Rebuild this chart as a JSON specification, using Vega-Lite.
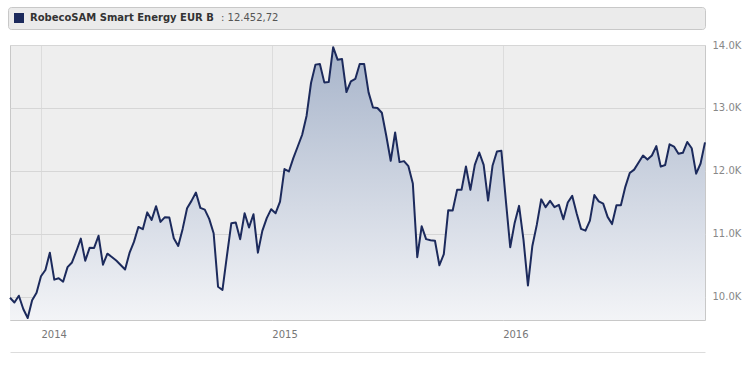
{
  "$schema": "https://vega.github.io/schema/vega-lite/v6.json",
  "width": 695,
  "height": 275,
  "autosize": {"type": "none"},
  "padding": {"left": 10, "top": 45, "right": 47, "bottom": 47},
  "background": "#ffffff",
  "config": {
    "view": {"fill": "#eeeeee", "stroke": "#c8c8c8", "strokeWidth": 1},
    "font": "DejaVu Sans"
  },
  "data": {"values": [
    {"date":"2013-11-13","value":9984},{"date":"2013-11-20","value":9908},{"date":"2013-11-27","value":10016},{"date":"2013-12-04","value":9804},{"date":"2013-12-11","value":9661},{"date":"2013-12-18","value":9943},{"date":"2013-12-25","value":10064},
    {"date":"2014-01-01","value":10325},{"date":"2014-01-08","value":10425},{"date":"2014-01-15","value":10700},{"date":"2014-01-22","value":10271},{"date":"2014-01-29","value":10293},
    {"date":"2014-02-05","value":10239},{"date":"2014-02-12","value":10470},{"date":"2014-02-19","value":10544},{"date":"2014-02-26","value":10727},
    {"date":"2014-03-05","value":10923},{"date":"2014-03-12","value":10571},{"date":"2014-03-19","value":10780},{"date":"2014-03-26","value":10775},
    {"date":"2014-04-02","value":10969},{"date":"2014-04-09","value":10509},{"date":"2014-04-16","value":10684},{"date":"2014-04-23","value":10632},{"date":"2014-04-30","value":10576},
    {"date":"2014-05-07","value":10505},{"date":"2014-05-14","value":10433},{"date":"2014-05-21","value":10696},{"date":"2014-05-28","value":10871},
    {"date":"2014-06-04","value":11109},{"date":"2014-06-11","value":11073},{"date":"2014-06-18","value":11340},{"date":"2014-06-25","value":11221},
    {"date":"2014-07-02","value":11439},{"date":"2014-07-09","value":11189},{"date":"2014-07-16","value":11264},{"date":"2014-07-23","value":11257},{"date":"2014-07-30","value":10929},
    {"date":"2014-08-06","value":10807},{"date":"2014-08-13","value":11078},{"date":"2014-08-20","value":11407},{"date":"2014-08-27","value":11523},
    {"date":"2014-09-03","value":11655},{"date":"2014-09-10","value":11412},{"date":"2014-09-17","value":11385},{"date":"2014-09-24","value":11237},
    {"date":"2014-10-01","value":11009},{"date":"2014-10-08","value":10159},{"date":"2014-10-15","value":10107},{"date":"2014-10-22","value":10648},{"date":"2014-10-29","value":11168},
    {"date":"2014-11-05","value":11178},{"date":"2014-11-12","value":10914},{"date":"2014-11-19","value":11327},{"date":"2014-11-26","value":11101},
    {"date":"2014-12-03","value":11311},{"date":"2014-12-10","value":10700},{"date":"2014-12-17","value":11046},{"date":"2014-12-24","value":11248},{"date":"2014-12-31","value":11391},
    {"date":"2015-01-07","value":11327},{"date":"2015-01-14","value":11512},{"date":"2015-01-21","value":12028},{"date":"2015-01-28","value":11990},
    {"date":"2015-02-04","value":12203},{"date":"2015-02-11","value":12387},{"date":"2015-02-18","value":12574},{"date":"2015-02-25","value":12876},
    {"date":"2015-03-04","value":13396},{"date":"2015-03-11","value":13688},{"date":"2015-03-18","value":13699},{"date":"2015-03-25","value":13406},
    {"date":"2015-04-01","value":13412},{"date":"2015-04-08","value":13966},{"date":"2015-04-15","value":13767},{"date":"2015-04-22","value":13778},{"date":"2015-04-29","value":13253},
    {"date":"2015-05-06","value":13422},{"date":"2015-05-13","value":13460},{"date":"2015-05-20","value":13699},{"date":"2015-05-27","value":13699},
    {"date":"2015-06-03","value":13247},{"date":"2015-06-10","value":13008},{"date":"2015-06-17","value":12999},{"date":"2015-06-24","value":12924},
    {"date":"2015-07-01","value":12558},{"date":"2015-07-08","value":12160},{"date":"2015-07-15","value":12610},{"date":"2015-07-22","value":12139},{"date":"2015-07-29","value":12155},
    {"date":"2015-08-05","value":12075},{"date":"2015-08-12","value":11799},{"date":"2015-08-19","value":10629},{"date":"2015-08-26","value":11120},
    {"date":"2015-09-02","value":10915},{"date":"2015-09-09","value":10898},{"date":"2015-09-16","value":10890},{"date":"2015-09-23","value":10500},{"date":"2015-09-30","value":10676},
    {"date":"2015-10-07","value":11375},{"date":"2015-10-14","value":11369},{"date":"2015-10-21","value":11698},{"date":"2015-10-28","value":11698},
    {"date":"2015-11-04","value":12069},{"date":"2015-11-11","value":11698},{"date":"2015-11-18","value":12096},{"date":"2015-11-25","value":12292},
    {"date":"2015-12-02","value":12096},{"date":"2015-12-09","value":11528},{"date":"2015-12-16","value":12080},{"date":"2015-12-23","value":12308},{"date":"2015-12-30","value":12319},
    {"date":"2016-01-06","value":11539},{"date":"2016-01-13","value":10786},{"date":"2016-01-20","value":11173},{"date":"2016-01-27","value":11444},
    {"date":"2016-02-03","value":10902},{"date":"2016-02-10","value":10178},{"date":"2016-02-17","value":10807},{"date":"2016-02-24","value":11141},
    {"date":"2016-03-02","value":11547},{"date":"2016-03-09","value":11423},{"date":"2016-03-16","value":11523},{"date":"2016-03-23","value":11423},{"date":"2016-03-30","value":11459},
    {"date":"2016-04-06","value":11232},{"date":"2016-04-13","value":11496},{"date":"2016-04-20","value":11603},{"date":"2016-04-27","value":11327},
    {"date":"2016-05-04","value":11078},{"date":"2016-05-11","value":11050},{"date":"2016-05-18","value":11210},{"date":"2016-05-25","value":11615},
    {"date":"2016-06-01","value":11515},{"date":"2016-06-08","value":11480},{"date":"2016-06-15","value":11269},{"date":"2016-06-22","value":11154},{"date":"2016-06-29","value":11455},
    {"date":"2016-07-06","value":11455},{"date":"2016-07-13","value":11746},{"date":"2016-07-20","value":11966},{"date":"2016-07-27","value":12020},
    {"date":"2016-08-03","value":12133},{"date":"2016-08-10","value":12244},{"date":"2016-08-17","value":12179},{"date":"2016-08-24","value":12244},{"date":"2016-08-31","value":12394},
    {"date":"2016-09-07","value":12067},{"date":"2016-09-14","value":12093},{"date":"2016-09-21","value":12422},{"date":"2016-09-28","value":12386},
    {"date":"2016-10-05","value":12271},{"date":"2016-10-12","value":12287},{"date":"2016-10-19","value":12459},{"date":"2016-10-26","value":12359},
    {"date":"2016-11-02","value":11956},{"date":"2016-11-09","value":12117},{"date":"2016-11-16","value":12452.72}
  ]},
  "encoding": {
    "x": {
      "field": "date", "type": "temporal",
      "scale": {"type": "utc", "domain": [{"year": 2013, "month": 11, "date": 13, "utc": true}, {"year": 2016, "month": 11, "date": 16, "utc": true}]},
      "axis": {
        "title": null, "format": "%Y",
        "values": [{"year": 2014, "utc": true}, {"year": 2015, "utc": true}, {"year": 2016, "utc": true}],
        "grid": true, "gridColor": "#dcdcdc", "gridWidth": 1,
        "domain": false, "ticks": false,
        "labelAlign": "left", "labelBaseline": "top", "labelPadding": 9, "labelDx": 1,
        "labelFont": "DejaVu Sans", "labelFontSize": 10, "labelColor": "#777777"
      }
    },
    "y": {
      "field": "value", "type": "quantitative",
      "scale": {"domain": [9630, 14000], "zero": false, "nice": false},
      "axis": {
        "title": null, "orient": "right",
        "values": [10000, 11000, 12000, 13000, 14000],
        "labelExpr": "format(datum.value / 1000, '.1f') + 'K'",
        "grid": true, "gridColor": "#d6d6d6", "gridWidth": 1,
        "domain": false, "ticks": false,
        "labelPadding": 7, "labelBaseline": "middle", "labelDy": 1,
        "labelFont": "DejaVu Sans", "labelFontSize": 10, "labelColor": "#888888"
      }
    }
  },
  "layer": [
    {
      "mark": {
        "type": "area", "clip": true,
        "color": {"gradient": "linear", "x1": 0, "y1": 0, "x2": 0, "y2": 1,
          "stops": [{"offset": 0, "color": "#a7b4ca"}, {"offset": 1, "color": "#f3f4f7"}]}
      },
      "encoding": {"y2": {"datum": 9630}}
    },
    {
      "mark": {"type": "line", "strokeWidth": 2, "clip": false, "strokeJoin": "round"},
      "encoding": {
        "x": {
          "field": "date", "type": "temporal",
          "axis": {"orient": "bottom", "offset": 32, "title": null, "labels": false, "ticks": false, "grid": false,
                   "domain": true, "domainColor": "#dcdcdc", "domainWidth": 1}
        },
        "color": {
          "datum": "RobecoSAM Smart Energy EUR B",
          "scale": {"range": ["#1c2a5c"]},
          "legend": {
            "orient": "none", "legendX": -2, "legendY": -38,
            "fillColor": "#ebebeb", "strokeColor": "#c8c8c8", "cornerRadius": 3, "padding": 6,
            "symbolType": "square", "symbolSize": 100,
            "labelFont": "DejaVu Sans", "labelFontSize": 10, "labelFontWeight": "bold", "labelColor": "#333333",
            "labelOffset": 6, "labelLimit": 500,
            "title": ": 12.452,72\u2003\u2003\u2003\u2003\u2003\u2003\u2003\u2003\u2003\u2003\u2003\u2003\u2003\u2003\u2003\u2003\u2003\u2003\u2003\u2003\u2003\u2003\u2003\u2003\u2003\u2003\u2003\u2003\u2003\u2003\u2003\u2003\u2003\u2003\u2003\u2003\u2003\u2003\u2003\u2003\u2003\u2003\u200b",
            "titleOrient": "right", "titleFont": "DejaVu Sans", "titleFontSize": 10, "titleFontWeight": "normal",
            "titleColor": "#555555", "titlePadding": 7, "titleLimit": 2000,
            "titleAnchor": "middle", "titleBaseline": "middle",
            "encode": {"symbols": {"update": {"fill": {"value": "#1c2a5c"}, "stroke": {"value": "transparent"}, "strokeWidth": {"value": 0}}}}
          }
        }
      }
    }
  ],
  "resolve": {"axis": {"x": "independent"}}
}
